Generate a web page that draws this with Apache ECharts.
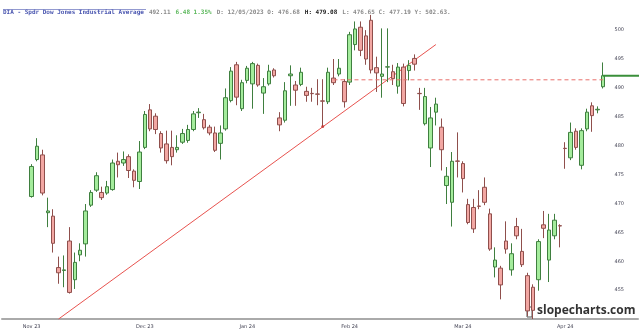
<!DOCTYPE html>
<html><head><meta charset="utf-8">
<script src="https://cdn.jsdelivr.net/npm/echarts@6/dist/echarts.min.js"></script>
<style>html,body{margin:0;padding:0;background:#fff}#c{width:640px;height:335px}</style>
</head><body><div id="c"></div>
<script>
// ---- data ----
const padBefore = 5, padAfter = 6;
const tickLabels = ['Nov 23','Dec 23','Jan 24','Feb 24','Mar 24','Apr 24'];
const tickCandle = [0, 21, 40, 59, 80, 99];
const opens = [471.2,477.6,478.4,468.4,467.8,458.9,458.4,463.5,456.8,461.1,
463.0,469.7,472.3,471.9,471.8,472.4,477.3,477.0,478.1,475.6,
473.8,479.7,486.2,485.1,482.1,480.3,479.7,479.3,480.6,480.9,
482.8,485.7,484.5,483.2,482.2,480.4,482.9,487.8,494.0,486.4,
491.3,490.7,493.9,489.1,490.7,493.1,484.8,484.4,492.1,490.5,
490.6,489.4,489.05,488.95,487.75,487.6,491.7,492.4,491.1,491.0,
497.5,500.5,499.0,501.7,493.5,492.0,493.6,492.8,490.3,493.6,
493.0,495.1,489.05,483.8,479.6,485.8,483.2,473.1,470.2,477.35,
476.9,469.8,469.3,469.55,472.8,468.2,459.0,458.8,463.5,458.5,
466.0,461.7,457.5,455.5,456.8,466.3,460.2,464.4,466.15,479.55,
477.9,482.5,476.6,482.9,486.9,486.2,490.2];
const closes = [476.4,479.9,471.8,468.7,463.1,458.0,458.5,454.6,459.8,461.9,
468.7,471.9,474.8,471.0,472.9,477.0,476.7,477.6,475.7,474.0,
478.9,485.4,482.9,482.8,479.6,477.4,478.1,479.7,482.1,482.8,
485.5,485.8,483.1,482.2,479.2,482.2,488.3,492.9,488.4,490.9,
493.4,494.2,490.5,490.2,492.9,492.1,483.6,489.5,492.4,489.6,
492.7,488.7,489.0,488.9,487.7,492.7,490.9,493.4,487.6,499.2,
500.2,496.5,495.0,493.1,492.6,492.4,493.65,491.6,493.6,487.3,
493.9,494.1,489.0,488.5,484.8,487.2,479.3,474.7,477.3,477.3,
474.3,466.7,465.6,469.5,470.2,462.1,460.2,455.9,462.1,461.3,
464.4,459.4,451.4,451.5,463.4,465.7,465.4,467.1,466.1,479.5,
482.3,479.7,482.6,485.8,485.2,486.3,492.11];
const lows = [471.0,477.3,471.4,465.9,461.5,456.1,455.5,454.4,455.2,460.0,
460.8,469.4,472.0,470.6,471.5,472.2,474.5,476.5,474.4,472.8,
472.5,479.4,482.5,482.0,478.8,476.9,476.6,478.8,480.3,480.5,
482.5,484.8,482.8,481.8,478.9,477.6,482.6,487.5,487.0,486.0,
490.8,486.4,490.2,485.5,490.4,491.8,482.5,484.0,486.9,486.9,
490.3,487.6,487.6,487.0,483.3,487.2,490.5,492.0,486.6,490.5,
496.5,495.5,494.0,492.5,489.3,488.3,491.0,490.5,489.0,486.8,
491.3,493.0,486.2,483.5,476.3,483.5,475.7,469.9,466.0,474.5,
471.9,466.4,464.9,469.0,469.7,461.8,457.2,453.4,461.3,457.5,
463.8,459.0,450.5,450.0,454.9,464.0,456.4,463.8,462.4,476.0,
477.5,479.3,475.9,482.5,482.4,485.6,489.9];
const highs = [476.8,481.3,479.3,471.0,469.0,460.8,461.0,465.9,461.5,463.1,
469.9,472.3,475.4,472.9,473.9,477.6,478.8,479.0,478.5,475.9,
480.8,486.0,487.2,485.6,482.5,482.6,482.6,481.8,482.9,483.6,
486.0,486.5,485.5,483.6,483.3,483.5,489.9,493.6,494.5,491.4,
493.8,494.5,494.2,491.7,494.0,493.4,485.8,491.0,493.9,491.2,
493.5,490.2,490.0,491.5,491.5,493.5,495.0,495.0,491.5,499.7,
501.5,501.5,500.0,502.63,495.4,500.3,500.3,494.0,494.3,494.2,
494.8,495.8,490.0,490.0,486.7,488.3,484.7,476.3,478.9,482.3,
477.3,470.8,470.8,472.3,474.5,469.1,462.4,459.2,466.9,463.1,
467.5,465.6,458.0,456.0,463.8,468.7,468.2,468.2,466.4,480.6,
484.0,483.0,483.0,486.4,487.5,486.8,494.4];
// annotation lines (candle index, value)
const trendX = [4.9, 75], trendY = [450.0, 497.5];
const pivotX = [54], pivotY = [483.3];
const dashX = [55.5, 105.7], dashY = [491.4, 491.4];
const lastX = [106, 113], lastY = [492.11, 492.11];
// ---- build ----
const N = opens.length;
const cats = [];
for (let i = 0; i < padBefore + N + padAfter; i++) {
  const k = tickCandle.indexOf(i - padBefore);
  cats.push(k >= 0 ? tickLabels[k] : ' ' + i);
}
const candles = [];
for (let i = 0; i < padBefore; i++) candles.push('-');
for (let i = 0; i < N; i++) candles.push([opens[i], closes[i], lows[i], highs[i]]);
for (let i = 0; i < padAfter; i++) candles.push('-');
const pts = (xs, ys) => xs.map((x, i) => [x + padBefore, ys[i]]);

const chart = echarts.init(document.getElementById('c'), null, {renderer: 'canvas'});
chart.setOption({
  animation: false,
  backgroundColor: '#fff',
  title: {
    left: 3, top: 3, padding: 0,
    text: '{a|DIA - Spdr Dow Jones Industrial Average} {b|492.11} {g|6.48 1.35%} {b|D: 12/05/2023 O: 476.68} {k|H: 479.08} {b|L: 476.65 C: 477.19 Y: 502.63.}',
    textStyle: {
      rich: {
        a: {fontFamily: 'DejaVu Sans Mono', fontSize: 6, color: '#4a56b0'},
        b: {fontFamily: 'DejaVu Sans Mono', fontSize: 6, color: '#8a8a8a'},
        g: {fontFamily: 'DejaVu Sans Mono', fontSize: 6, color: '#5cb85c'},
        k: {fontFamily: 'DejaVu Sans Mono', fontSize: 6, color: '#222', fontWeight: 'bold'}
      }
    }
  },
  grid: {left: 2, right: 2, top: 7, bottom: 16},
  xAxis: {
    type: 'category', data: cats, boundaryGap: true,
    axisLine: {lineStyle: {color: '#aaaaaa', width: 2}},
    axisTick: {show: false},
    axisLabel: {
      interval: (i, v) => tickLabels.indexOf(v) >= 0,
      fontSize: 5, color: '#445', margin: 5, fontFamily: 'DejaVu Sans'
    },
    splitLine: {show: false}
  },
  yAxis: {
    type: 'value', position: 'right', min: 450, max: 504, interval: 5,
    axisLine: {show: false}, axisTick: {show: false}, splitLine: {show: false},
    axisLabel: {
      inside: true, margin: 14, fontSize: 5, color: '#445', fontFamily: 'DejaVu Sans',
      showMinLabel: false, showMaxLabel: false,
      formatter: v => (v % 5 === 0 && v >= 455 && v <= 500) ? String(v) : ''
    }
  },
  series: [
    {
      type: 'line', data: pts(trendX, trendY), symbol: 'none', clip: false,
      lineStyle: {color: '#e8534f', width: 1}, silent: true, z: 1
    },
    {
      type: 'candlestick', data: candles, barWidth: 4,
      itemStyle: {color: '#a4ec9c', color0: '#f2a7a3', borderColor: '#3f7f3f', borderColor0: '#8f4f4c', borderWidth: 1},
      z: 2
    },
    {
      type: 'scatter', data: pts(pivotX, pivotY), symbolSize: 3,
      itemStyle: {color: '#c0302c'}, z: 3
    },
    {
      type: 'line', data: pts(dashX, dashY), symbol: 'none', clip: false,
      lineStyle: {color: '#e8706c', width: 1, type: [4, 3]}, z: 3
    },
    {
      type: 'line', data: pts(lastX, lastY), symbol: 'none', clip: false,
      lineStyle: {color: '#3a8f3a', width: 2}, z: 4
    }
  ],
  graphic: [
    {type: 'line', shape: {x1: 3, y1: 9.5, x2: 146, y2: 9.5}, style: {stroke: '#4a56b0', lineWidth: 0.6}},
    {type: 'rect', shape: {x: 527, y: 307, width: 5, height: 10}, style: {fill: 'none', stroke: '#555', lineWidth: 1}},
    {type: 'text', left: 537, top: 305, style: {text: 'slopecharts.com', font: 'bold 12px "Open Sans"', fill: '#333'}}
  ]
});
</script></body></html>
